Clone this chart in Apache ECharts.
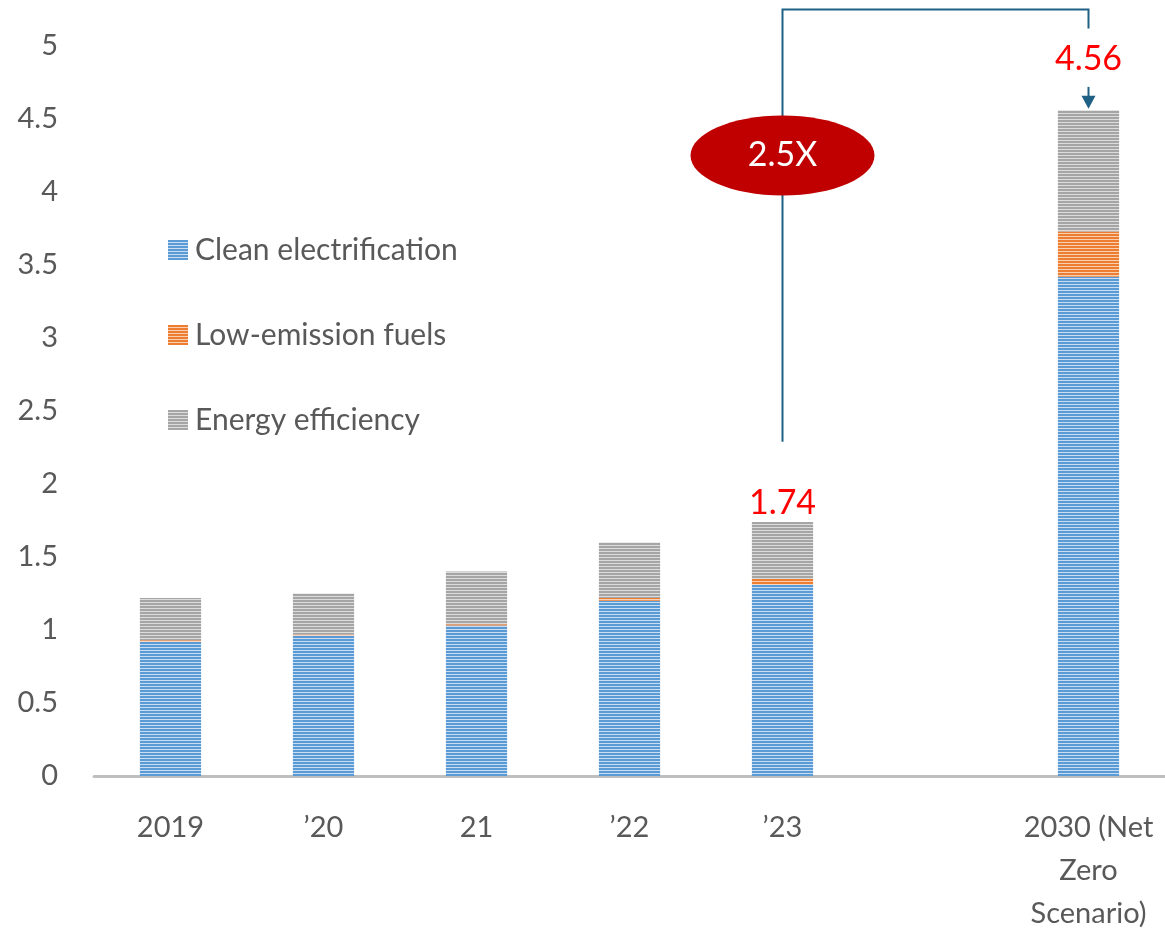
<!doctype html>
<html>
<head>
<meta charset="UTF-8">
<title>Clean energy investment</title>
<script src="https://cdn.jsdelivr.net/npm/echarts@6/dist/echarts.min.js"></script>
<style>
	html, body { margin: 0; padding: 0; background: #fff; }
	#chart { width: 1165px; height: 932px; }
</style>
</head>
<body>
<div id="chart"></div>
<script>
	// 数据
	var categories = ['2019', '\u201920', '21', '\u201922', '\u201923', '', '2030 (Net\nZero\nScenario)'];
	var cleanElec = [0.92, 0.96, 1.03, 1.20, 1.31, null, 3.42];
	var lowEmission = [0.01, 0.01, 0.01, 0.02, 0.04, null, 0.31];
	var efficiency = [0.29, 0.28, 0.36, 0.38, 0.39, null, 0.83];
	var totalLabels = ['', '', '', '', '1.74', '', '4.56'];
	var yTicks = ['0', '0.5', '1', '1.5', '2', '2.5', '3', '3.5', '4', '4.5', '5'];

	var FONT = 'Lato, "Noto Sans", sans-serif';

	// 横条纹填充
	function stripes(main, light) {
		var c = document.createElement('canvas');
		c.width = 4; c.height = 3;
		var ctx = c.getContext('2d');
		ctx.fillStyle = light;
		ctx.fillRect(0, 0, 4, 3);
		ctx.fillStyle = main;
		ctx.fillRect(0, 0, 4, 2);
		return { image: c, repeat: 'repeat' };
	}
	var blueFill = stripes('#5b9bd5', '#c9ddf2');
	var orangeFill = stripes('#ed7d31', '#f9cfb2');
	var grayFill = stripes('#a5a5a5', '#dcdcdc');

	var myChart = echarts.init(document.getElementById('chart'));

	var option = {
		backgroundColor: '#fff',
		animation: false,
		textStyle: { fontFamily: FONT },
		grid: { left: 94, right: 0, top: 46, bottom: 156, containLabel: false, outerBoundsMode: 'none' },
		legend: {
			orient: 'vertical',
			left: 163,
			top: 230,
			itemWidth: 20,
			itemHeight: 20,
			itemGap: 55,
			icon: 'rect',
			textStyle: { fontSize: 30, color: '#595959', fontFamily: FONT, padding: [0, 0, 0, 2] },
			data: ['Clean electrification', 'Low-emission fuels', 'Energy efficiency']
		},
		xAxis: {
			type: 'category',
			data: categories,
			axisLine: { lineStyle: { color: '#bfbfbf', width: 3 } },
			axisTick: { show: false },
			axisLabel: { fontSize: 29, color: '#595959', lineHeight: 43, margin: 30, interval: 0 }
		},
		yAxis: {
			type: 'value',
			min: 0,
			max: 5,
			interval: 0.5,
			splitLine: { show: false },
			axisLine: { show: false },
			axisTick: { show: false },
			axisLabel: {
				fontSize: 29, color: '#595959', margin: 36,
				formatter: function (v) { return yTicks[Math.round(v / 0.5)]; }
			}
		},
		series: [{
			name: 'Clean electrification',
			type: 'bar',
			stack: 'total',
			barWidth: '40%',
			itemStyle: { color: blueFill },
			data: cleanElec
		}, {
			name: 'Low-emission fuels',
			type: 'bar',
			stack: 'total',
			itemStyle: { color: orangeFill },
			data: lowEmission
		}, {
			name: 'Energy efficiency',
			type: 'bar',
			stack: 'total',
			itemStyle: { color: grayFill },
			data: efficiency.map(function (v, i) {
				return {
					value: v,
					label: {
						show: totalLabels[i] !== '',
						position: 'top',
						distance: i === 6 ? 34 : 2,
						formatter: totalLabels[i],
						color: '#ff0000',
						fontSize: 34,
						fontFamily: FONT
					}
				};
			})
		}]
	};
	myChart.setOption(option);

	// 注释：括号线、箭头、2.5X 椭圆
	function px(cat, val) {
		return myChart.convertToPixel({ xAxisIndex: 0, yAxisIndex: 0 }, [cat, val]);
	}
	var pLow = px(4, 2.29);
	var pTop = px(4, 5.25);
	var pRight = px(6, 5.25);
	var pDown = px(6, 5.12);
	var pArrowTop = px(6, 4.72);
	var pArrowTip = px(6, 4.57);
	var lineColor = '#1f6185';
	var ex = pLow[0], ey = px(4, 4.25)[1];

	myChart.setOption({
		graphic: [{
			type: 'polyline',
			shape: { points: [[pLow[0], pLow[1]], [pTop[0], pTop[1]], [pRight[0], pRight[1]], [pDown[0], pDown[1]]] },
			style: { stroke: lineColor, lineWidth: 2, fill: null }
		}, {
			type: 'line',
			shape: { x1: pArrowTop[0], y1: pArrowTop[1], x2: pArrowTip[0], y2: pArrowTip[1] - 8 },
			style: { stroke: lineColor, lineWidth: 2 }
		}, {
			type: 'polygon',
			shape: { points: [[pArrowTip[0] - 7, pArrowTip[1] - 13], [pArrowTip[0] + 7, pArrowTip[1] - 13], [pArrowTip[0], pArrowTip[1]]] },
			style: { fill: lineColor }
		}, {
			type: 'ellipse',
			shape: { cx: ex, cy: ey, rx: 92, ry: 40 },
			style: { fill: '#c00000' },
			z: 10
		}, {
			type: 'text',
			x: ex, y: ey,
			style: { text: '2.5X', fill: '#fff', fontSize: 34, fontFamily: FONT, align: 'center', verticalAlign: 'middle' },
			z: 11
		}]
	});
</script>
</body>
</html>
